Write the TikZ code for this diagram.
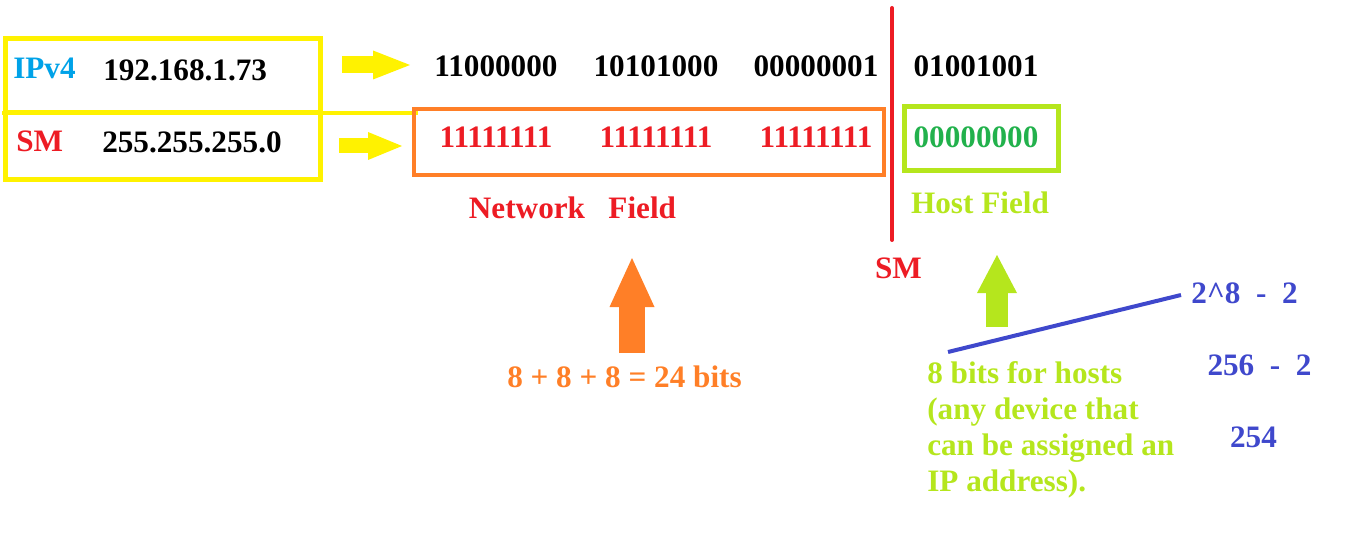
\documentclass[tikz,border=0pt]{standalone}
\usepackage{fontspec}
\setmainfont{Liberation Serif}
\usepackage{xcolor}
\usetikzlibrary{arrows.meta, positioning}
\definecolor{paintyellow}{HTML}{FFF200}
\definecolor{paintorange}{HTML}{FF7F27}
\definecolor{paintred}{HTML}{ED1C24}
\definecolor{paintlime}{HTML}{B5E61D}
\definecolor{paintgreen}{HTML}{22B14C}
\definecolor{paintblue}{HTML}{3F48CC}
\definecolor{paintaqua}{HTML}{00A2E8}
\tikzset{
    textnode/.style = {draw=none, fill=none, rectangle, inner sep=0em, node distance=0em,
      font=\bfseries\fontsize{23.4}{27}\selectfont},
    boxnode/.style = {draw, rectangle, fill=none, inner sep=0em, outer sep=0em, node distance=0em},
    fatarrow/.style n args = {3}{line width=#1, -{Triangle[length=#2, width=#3, line width=0pt]}},
    every text node part/.style={align=left}
}
\newcommand{\red}[1]{{\color{paintred} #1}}
\newcommand{\blue}[1]{{\color{paintblue} #1}}
\newcommand{\green}[1]{{\color{paintgreen} #1}}
\newcommand{\lime}[1]{{\color{paintlime} #1}}
\newcommand{\orange}[1]{{\color{paintorange} #1}}
\newcommand{\aqua}[1]{{\color{paintaqua} #1}}
\begin{document}
\begin{tikzpicture}[x=0.75pt, y=-0.75pt]
    \useasboundingbox (0,0) rectangle (1357,556);

    % address boxes
    \node [name=ipbox, boxnode, draw=paintyellow, line width=3.75pt,
        minimum width=236.6pt, minimum height=55.5pt] at (163.25,76) {};
    \node [name=smbox, boxnode, draw=paintyellow, line width=3.75pt,
        minimum width=236.6pt, minimum height=50.25pt] at (163.25,146.5) {};
    \draw [paintyellow, line width=3pt] ([xshift=-2.6pt]ipbox.south west) -- ++(416,0);

    \node [name=iplabel, textnode, anchor=west] at (13,68) {\aqua{IPv4}};
    \node [name=ipaddr, textnode, anchor=west] at (103,70) {192.168.1.73};
    \node [name=smlabel, textnode, anchor=west] at (16,141) {\red{SM}};
    \node [name=smaddr, textnode, anchor=west] at (102,142) {255.255.255.0};

    % binary form
    \node [name=ipbits1, textnode] at (496,66) {11000000};
    \node [name=ipbits2, textnode, right of=ipbits1, xshift=120pt] {10101000};
    \node [name=ipbits3, textnode, right of=ipbits2, xshift=120pt] {00000001};
    \node [name=ipbits4, textnode, right of=ipbits3, xshift=120pt] {01001001};

    \node [name=smbits1, textnode] at (496,137) {\red{11111111}};
    \node [name=smbits2, textnode, right of=smbits1, xshift=120pt] {\red{11111111}};
    \node [name=smbits3, textnode, right of=smbits2, xshift=120pt] {\red{11111111}};
    \node [name=smbits4, textnode, right of=smbits3, xshift=120pt] {\green{00000000}};

    \coordinate (iparrowtail) at (342,65);
    \coordinate (iparrowhead) at (410,65);
    \coordinate (smarrowtail) at (339,146);
    \coordinate (smarrowhead) at (402,146);
    \draw [paintyellow, fatarrow={12.75pt}{27.75pt}{21.75pt}] (iparrowtail) -- (iparrowhead);
    \draw [paintyellow, fatarrow={11.25pt}{25.5pt}{21pt}] (smarrowtail) -- (smarrowhead);

    % fields
    \node [name=netbox, boxnode, draw=paintorange, line width=3pt,
        minimum width=352.5pt, minimum height=49.5pt] at (649,142) {};
    \node [name=hostbox, boxnode, draw=paintlime, line width=3.75pt,
        minimum width=115.5pt, minimum height=48pt] at (981,139) {};

    \coordinate (smlinetop) at (892,8);
    \coordinate (smlinebot) at (892,240);
    \draw [paintred, line width=3pt, line cap=round] (smlinetop) -- (smlinebot);
    \node [name=smcut, textnode] at (898.5,268) {\red{SM}};

    \node [name=netfield, textnode] at (572.5,208) {\red{Network\ \ \ Field}};
    \node [name=hostfield, textnode] at (980,203) {\lime{Host Field}};

    % counting bits
    \coordinate (netarrowtail) at (632,353);
    \coordinate (netarrowhead) at (632,258);
    \draw [paintorange, fatarrow={19.5pt}{36.75pt}{33.75pt}] (netarrowtail) -- (netarrowhead);
    \node [name=netsum, textnode] at (624.5,377) {\orange{8 + 8 + 8 = 24 bits}};

    \coordinate (hostarrowtail) at (997,327);
    \coordinate (hostarrowhead) at (997,255);
    \draw [paintlime, fatarrow={16.5pt}{28.5pt}{30pt}] (hostarrowtail) -- (hostarrowhead);
    \node [name=hostnote, textnode, anchor=north west] at (927,361)
        {\lime{8 bits for hosts}\\\lime{(any device that}\\\lime{can be assigned an}\\\lime{IP address).}};

    \node [name=hostcalc1, textnode] at (1244.5,293) {\blue{2\textasciicircum 8\ \ -\ \ 2}};
    \node [name=hostcalc2, textnode] at (1259.5,365) {\blue{256\ \ -\ \ 2}};
    \node [name=hostcalc3, textnode] at (1253.5,437) {\blue{254}};
    \coordinate (calclinestart) at (948,352);
    \coordinate (calclineend) at (1181,295);
    \draw [paintblue, line width=3pt] (calclinestart) -- (calclineend);
\end{tikzpicture}
\end{document}
